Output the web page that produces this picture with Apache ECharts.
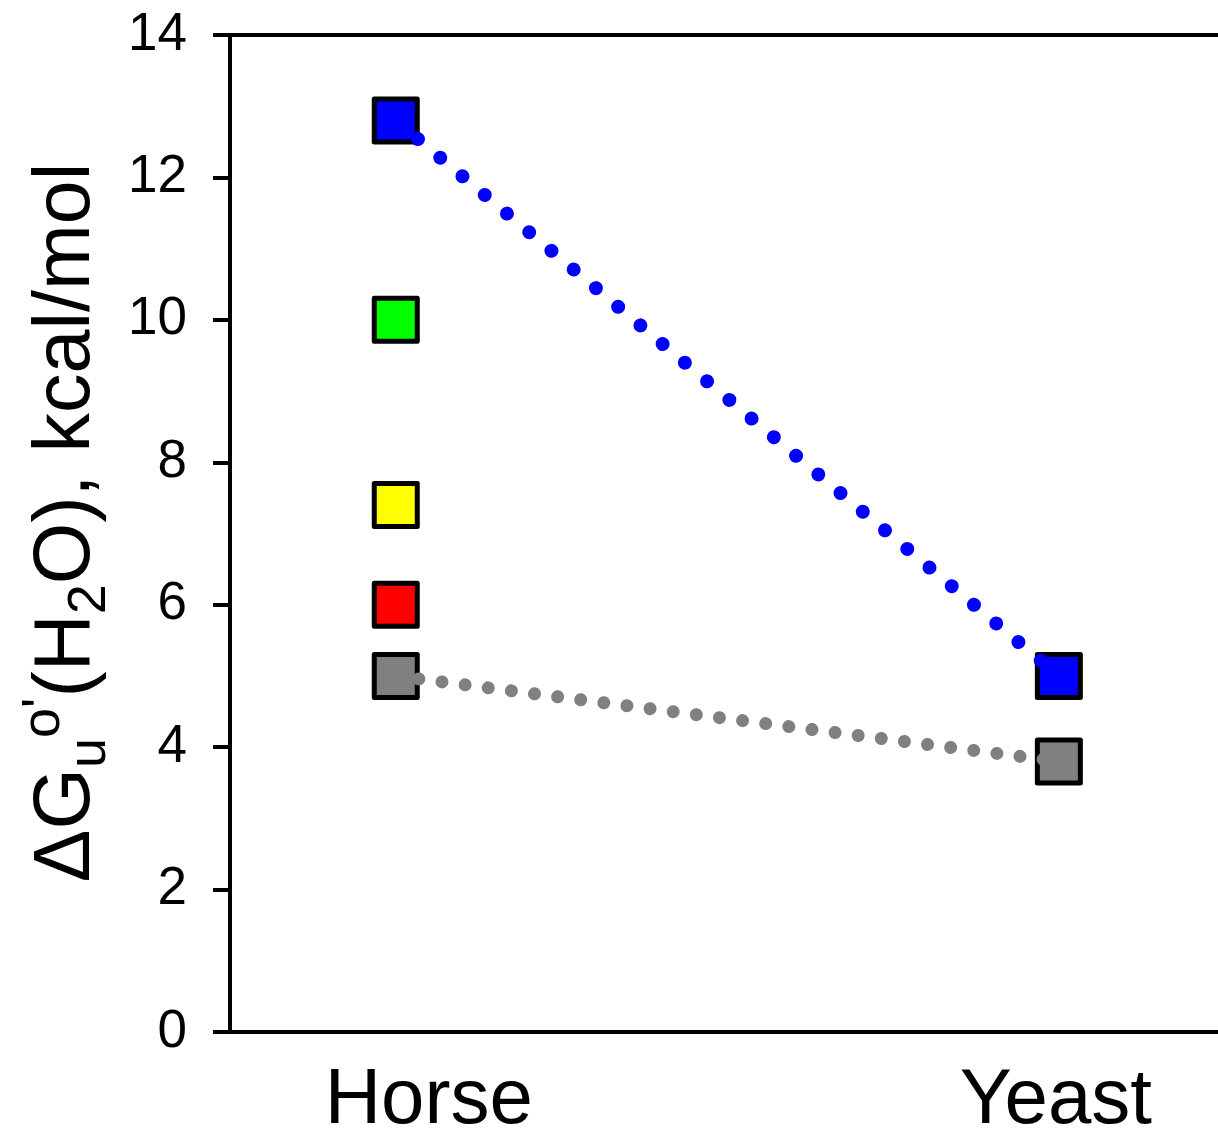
<!DOCTYPE html>
<html>
<head>
<meta charset="utf-8">
<script src="https://cdn.jsdelivr.net/npm/echarts@6/dist/echarts.min.js"></script>
<style>
html,body{margin:0;padding:0;background:#fff;}
#chart{width:1218px;height:1132px;}
</style>
</head>
<body>
<div id="chart"></div>
<script>
// ---- data ----
var categories = ['Horse', 'Yeast'];
var categoryX = [1, 5];
var horseValues = [12.8, 10.0, 7.4, 6.0, 5.0];
var horseColors = ['#0000ff', '#00ff00', '#ffff00', '#ff0000', '#808080'];
var yeastValues = [5.0, 3.8];
var yeastColors = ['#0000ff', '#808080'];
var blueLine = [12.8, 5.0];
var grayLine = [5.0, 3.8];
var yTicks = [0, 2, 4, 6, 8, 10, 12, 14];

var FONT = "'Liberation Sans', Arial, sans-serif";

function pts(xs, ys) { return ys.map(function (v, i) { return [xs[i], v]; }); }

var horseData = horseValues.map(function (v, i) {
  return { value: [categoryX[0], v], itemStyle: { color: horseColors[i] } };
});
var yeastData = yeastValues.map(function (v, i) {
  return { value: [categoryX[1], v], itemStyle: { color: yeastColors[i] } };
});

var markerStyle = { borderColor: '#000', borderWidth: 5, borderJoin: 'round', opacity: 1 };

var chart = echarts.init(document.getElementById('chart'));
chart.setOption({
  backgroundColor: '#fff',
  animation: false,
  grid: { left: 230, right: 0, top: 35, bottom: 100, containLabel: false, outerBoundsMode: 'none' },
  xAxis: [{
    type: 'value', min: 0, max: 5.96, interval: 1,
    axisLine: { show: true, onZero: false, lineStyle: { color: '#000', width: 4 } },
    axisTick: { show: false },
    splitLine: { show: false },
    axisLabel: {
      margin: 30,
      color: '#000',
      fontFamily: FONT,
      fontSize: 78,
      formatter: function (v) {
        var idx = categoryX.indexOf(v);
        if (idx === 0) return '{h|' + categories[0] + '}';
        if (idx === 1) return '{y|' + categories[1] + '}';
        return '';
      },
      rich: {
        h: { fontFamily: FONT, fontSize: 78, color: '#000', padding: [0, 0, 0, 66] },
        y: { fontFamily: FONT, fontSize: 78, color: '#000', padding: [0, 6, 0, 0] }
      }
    }
  }, {
    type: 'value', position: 'top', min: 0, max: 5.96,
    axisLine: { show: true, onZero: false, lineStyle: { color: '#000', width: 4 } },
    axisTick: { show: false }, axisLabel: { show: false }, splitLine: { show: false }
  }],
  yAxis: {
    type: 'value', min: yTicks[0], max: yTicks[yTicks.length - 1], interval: 2,
    axisLine: { show: true, lineStyle: { color: '#000', width: 4 } },
    axisTick: { show: true, inside: false, length: 17, lineStyle: { color: '#000', width: 4 } },
    splitLine: { show: false },
    axisLabel: { margin: 43, color: '#000', fontFamily: FONT, fontSize: 53 },
    name: '{m|ΔG}{sub|u}{sup|o\'}{m|(H}{sub2|2}{m|O), kcal/mol}',
    nameLocation: 'middle',
    nameGap: 112,
    nameTextStyle: {
      padding: [0, 0, 0, 22],
      rich: {
        m: { fontFamily: FONT, fontSize: 79, color: '#000', lineHeight: 100 },
        sub: { fontFamily: FONT, fontSize: 54, color: '#000', lineHeight: 52, verticalAlign: 'bottom' },
        sup: { fontFamily: FONT, fontSize: 54, color: '#000', lineHeight: 52, verticalAlign: 'top' },
        sub2: { fontFamily: FONT, fontSize: 54, color: '#000', lineHeight: 52, verticalAlign: 'bottom' }
      }
    }
  },
  series: [
    { type: 'scatter', symbol: 'rect', symbolSize: 43, z: 2, data: horseData, itemStyle: markerStyle },
    { type: 'scatter', symbol: 'rect', symbolSize: 43, z: 2, data: yeastData, itemStyle: markerStyle },
    {
      type: 'line', z: 5, showSymbol: false, symbol: 'none', data: pts(categoryX, blueLine),
      lineStyle: { color: '#0000ff', width: 14, type: [0.01, 29], cap: 'round' }
    },
    {
      type: 'line', z: 5, showSymbol: false, symbol: 'none', data: pts(categoryX, grayLine),
      lineStyle: { color: '#808080', width: 13, type: [0.01, 23.3], cap: 'round' }
    }
  ]
});
</script>
</body>
</html>
